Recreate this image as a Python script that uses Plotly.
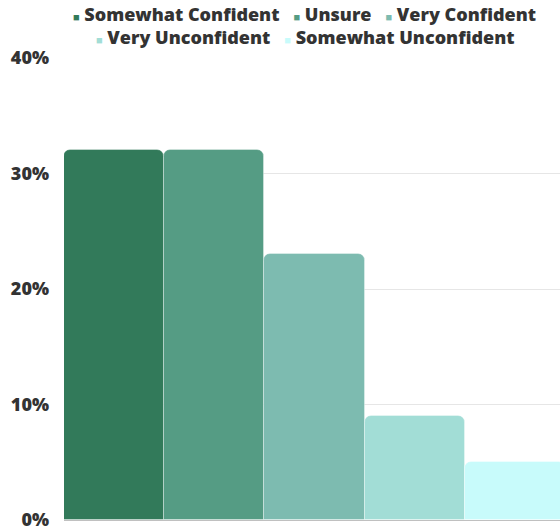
import plotly.graph_objects as go

# answer categories, in the order they appear
labels = ["Somewhat Confident", "Unsure", "Very Confident",
          "Very Unconfident", "Somewhat Unconfident"]
shares = [32, 32, 23, 9, 5]  # percent of respondents
colors = ["#327a5a", "#559c84", "#7dbbb0", "#a2ddd6", "#c8fbfb"]
y_ticks = [0, 10, 20, 30, 40]
y_tick_text = [f"{v}%" for v in y_ticks]

fig = go.Figure()

for name, val, col in zip(labels, shares, colors):
    fig.add_trace(go.Bar(
        x=["all"], y=[val], name=name,
        marker=dict(color=col, line=dict(width=1, color="rgba(255,255,255,0.35)")),
        showlegend=False,
        hovertemplate=name + ": %{y}%<extra></extra>",
    ))


# legend drawn as two centred text rows (small coloured squares + label)
def legend_row(idx):
    gap = "\u00a0" * 3
    parts = []
    for i in idx:
        parts.append(f"<span style='color:{colors[i]};font-size:11px'>\u25a0</span>"
                     f"\u00a0{labels[i]}")
    return gap.join(parts)


# plot area: top at 58px, bottom at 520px
for idx, ypix in [([0, 1, 2], 14), ([3, 4], 37)]:
    fig.add_annotation(
        text=legend_row(idx), showarrow=False,
        xref="paper", yref="paper", x=0.485, y=(520 - ypix) / 462,
        xanchor="center", yanchor="middle",
        font=dict(size=18, weight=800, color="#333333"),
    )

fig.update_layout(
    width=560, height=528,
    margin=dict(l=64, r=0, t=58, b=8, autoexpand=False),
    paper_bgcolor="white", plot_bgcolor="white",
    barmode="group", bargap=0, bargroupgap=0, barcornerradius=7,
    font=dict(family="Open Sans", color="#333333"),
    showlegend=False,
    # last bar runs slightly past the right edge in the original
    xaxis=dict(visible=False, range=[-0.5, 0.49]),
    yaxis=dict(
        range=[0, 40], tickvals=y_ticks, ticktext=y_tick_text,
        showgrid=True, gridcolor="#e6e6e6", gridwidth=1,
        zeroline=True, zerolinecolor="#c0c0c0", zerolinewidth=1,
        tickfont=dict(size=18, weight=800, color="#333333"),
        ticks="", ticklabelstandoff=14, ticklabeloverflow="allow",
    ),
)

fig.write_html("out.html", config={"displayModeBar": False},
               post_script="document.body.style.margin='0px';")
